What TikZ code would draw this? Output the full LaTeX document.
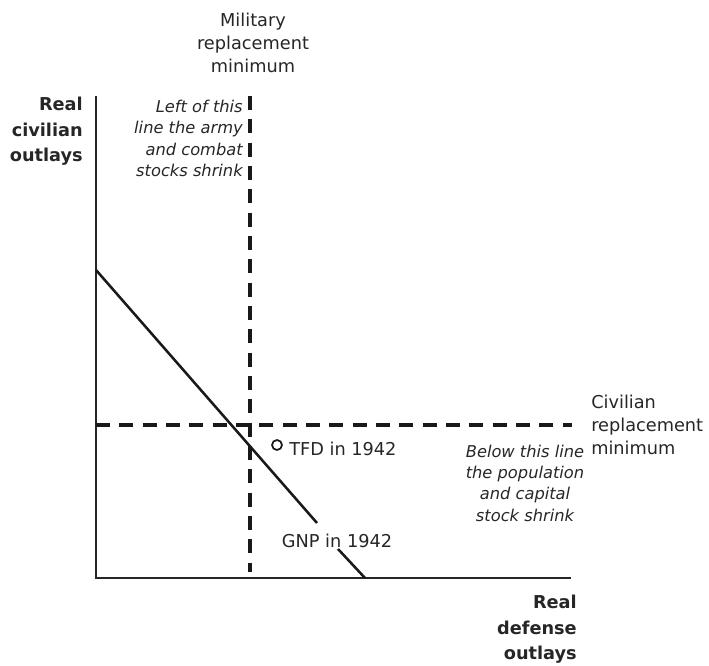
\documentclass[tikz,border=0pt]{standalone}
\usepackage{fontspec}
\setmainfont{DejaVu Sans}
\begin{document}
\begin{tikzpicture}[x=0.75pt,y=-0.75pt,
  lbl/.style={font=\fontsize{13.3pt}{17.5pt}\selectfont, inner sep=0pt, text=black!85},
  blbl/.style={lbl, font=\fontsize{13.3pt}{19pt}\selectfont\bfseries},
  ilbl/.style={lbl, font=\fontsize{12.2pt}{16pt}\selectfont\itshape},
  axisline/.style={line width=1.3pt, draw=black!85},
  dashline/.style={line width=3.2pt, draw=black!90, dash pattern=on 10.5pt off 7pt},
  gnpline/.style={line width=1.9pt, draw=black!90}]
\useasboundingbox (0,0) rectangle (709,666);
% axes
\coordinate (O) at (96,578);
\coordinate (ytop) at (96,96);
\coordinate (xend) at (571,578);
\draw[axisline] (ytop) -- (O) -- (xend);
% dashed lines
\coordinate (vtop) at (250,96);
\coordinate (vbot) at (250,572);
\draw[dashline] (vtop) -- (vbot);
\coordinate (hl) at (96,425);
\coordinate (hr) at (572,425);
\draw[dashline] (hl) -- (hr);
% GNP line
\coordinate (g1) at (96,270);
\coordinate (g2) at (317,523);
\coordinate (g3) at (338,549);
\coordinate (g4) at (365,578);
\draw[gnpline] (g1) -- (g2);
\draw[gnpline] (g3) -- (g4);
% TFD point
\node[circle, draw=black!90, line width=1.3pt, minimum size=7.5pt, inner sep=0pt] (tfd) at (277,445) {};
\node[lbl, anchor=west] (tfdl) at (289,449) {TFD in 1942};
\node[lbl] (gnpl) at (337,541) {GNP in 1942};
% labels
\node[lbl, align=center] (mil) at (253,43) {Military\\replacement\\minimum};
\node[blbl, align=right, anchor=north east] (ylab) at (83,97) {Real\\civilian\\outlays};
\node[ilbl, align=right, anchor=north east] (left) at (243,100) {Left of this\\line the army\\and combat\\stocks shrink};
\node[lbl, align=left, anchor=west] (civ) at (591,425) {Civilian\\replacement\\minimum};
\node[ilbl, align=center] (below) at (525,483) {Below this line\\the population\\and capital\\stock shrink};
\node[blbl, align=right, anchor=north east] (xlab) at (577,595) {Real\\defense\\outlays};
\end{tikzpicture}
\end{document}
